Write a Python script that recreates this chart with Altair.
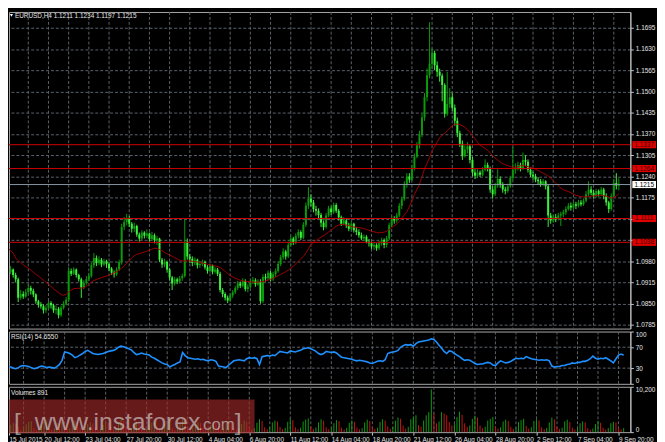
import json
import altair as alt
import pandas as pd

symbol_name = "EURUSD"
timeframe = "H4"
first_open = 1.0940

closes = [
    1.0948, 1.0955, 1.0938, 1.0925, 1.0868, 1.0880, 1.0872, 1.0885, 1.0898, 1.0890,
    1.0878, 1.0858, 1.0848, 1.0842, 1.0830, 1.0838, 1.0852, 1.0845, 1.0830, 1.0835,
    1.0815, 1.0838, 1.0850, 1.0862, 1.0950, 1.0942, 1.0955, 1.0938, 1.0925, 1.0900,
    1.0915, 1.0925, 1.0935, 1.0968, 1.0990, 1.0975, 1.0985, 1.0970, 1.0980, 1.0972,
    1.0958, 1.0945, 1.0940, 1.0955, 1.0978, 1.1085, 1.1100, 1.1112, 1.1095, 1.1080,
    1.1088, 1.1062, 1.1050, 1.1068, 1.1058, 1.1065, 1.1048, 1.1060, 1.1045, 1.1050,
    1.0985, 1.0970, 1.0978, 1.0955, 1.0930, 1.0912, 1.0925, 1.0918, 1.0928, 1.0935,
    1.1040, 1.0995, 1.0988, 1.0975, 1.0985, 1.0968, 1.0972, 1.0978, 1.0962, 1.0950,
    1.0966, 1.0948, 1.0955, 1.0942, 1.0892, 1.0880, 1.0868, 1.0860, 1.0875, 1.0885,
    1.0898, 1.0912, 1.0905, 1.0920, 1.0895, 1.0902, 1.0918, 1.0922, 1.0910, 1.0918,
    1.0858, 1.0932, 1.0928, 1.0945, 1.0925, 1.0940, 1.0950, 1.0972, 1.0992, 1.1010,
    1.0995, 1.1030, 1.1050, 1.1038, 1.1058, 1.1070, 1.1052, 1.1092, 1.1150, 1.1172,
    1.1160, 1.1140, 1.1135, 1.1122, 1.1098, 1.1085, 1.1120, 1.1142, 1.1130, 1.1152,
    1.1135, 1.1115, 1.1095, 1.1105, 1.1090, 1.1080, 1.1095, 1.1075, 1.1070, 1.1060,
    1.1050, 1.1055, 1.1040, 1.1035, 1.1025, 1.1030, 1.1020, 1.1035, 1.1045, 1.1030,
    1.1050, 1.1090, 1.1110, 1.1105, 1.1120, 1.1150, 1.1170, 1.1215, 1.1240, 1.1230,
    1.1265, 1.1300, 1.1335, 1.1368, 1.1420, 1.1482, 1.1550, 1.1585, 1.1618, 1.1580,
    1.1560, 1.1548, 1.1520, 1.1432, 1.1462, 1.1482, 1.1450, 1.1410, 1.1372, 1.1340,
    1.1302, 1.1322, 1.1332, 1.1290, 1.1252, 1.1242, 1.1252, 1.1245, 1.1260, 1.1275,
    1.1265, 1.1200, 1.1185, 1.1212, 1.1232, 1.1215, 1.1200, 1.1195, 1.1210, 1.1235,
    1.1260, 1.1265, 1.1275, 1.1265, 1.1290, 1.1285, 1.1260, 1.1245, 1.1240, 1.1230,
    1.1225, 1.1215, 1.1225, 1.1210, 1.1120, 1.1105, 1.1115, 1.1110, 1.1120, 1.1125,
    1.1130, 1.1140, 1.1150, 1.1145, 1.1155, 1.1150, 1.1160, 1.1155, 1.1165, 1.1185,
    1.1200, 1.1190, 1.1180, 1.1195, 1.1185, 1.1200, 1.1180, 1.1160, 1.1140, 1.1180,
    1.1220, 1.1211, 1.1215,
]

highs = [
    1.0962, 1.0966, 1.0958, 1.0945, 1.0930, 1.0892, 1.0888, 1.0895, 1.0910, 1.0905,
    1.0896, 1.0882, 1.0862, 1.0855, 1.0848, 1.0846, 1.0860, 1.0858, 1.0850, 1.0845,
    1.0840, 1.0845, 1.0858, 1.0870, 1.0962, 1.0958, 1.0962, 1.0958, 1.0942, 1.0930,
    1.0922, 1.0935, 1.0945, 1.0975, 1.1005, 1.0998, 1.0995, 1.0990, 1.0988, 1.0985,
    1.0978, 1.0962, 1.0952, 1.0962, 1.0985, 1.1095, 1.1115, 1.1125, 1.1118, 1.1100,
    1.1098, 1.1092, 1.1068, 1.1075, 1.1072, 1.1078, 1.1068, 1.1070, 1.1065, 1.1058,
    1.1052, 1.0990, 1.0988, 1.0982, 1.0960, 1.0935, 1.0932, 1.0930, 1.0935, 1.0942,
    1.1108, 1.1050, 1.1002, 1.0995, 1.0992, 1.0988, 1.0980, 1.0985, 1.0982, 1.0968,
    1.0972, 1.0970, 1.0962, 1.0960, 1.0948, 1.0898, 1.0885, 1.0875, 1.0882, 1.0892,
    1.0905, 1.0920, 1.0918, 1.0928, 1.0925, 1.0910, 1.0925, 1.0932, 1.0928, 1.0925,
    1.0925, 1.0940, 1.0942, 1.0952, 1.0950, 1.0948, 1.0958, 1.0980, 1.1000, 1.1020,
    1.1015, 1.1040, 1.1058, 1.1055, 1.1066, 1.1078, 1.1075, 1.1100, 1.1160, 1.1207,
    1.1185, 1.1168, 1.1150, 1.1142, 1.1128, 1.1105, 1.1128, 1.1150, 1.1148, 1.1160,
    1.1158, 1.1140, 1.1120, 1.1115, 1.1110, 1.1098, 1.1102, 1.1098, 1.1085, 1.1078,
    1.1068, 1.1062, 1.1060, 1.1048, 1.1040, 1.1038, 1.1035, 1.1042, 1.1052, 1.1050,
    1.1058, 1.1098, 1.1118, 1.1118, 1.1128, 1.1158, 1.1178, 1.1225, 1.1250, 1.1250,
    1.1275, 1.1310, 1.1345, 1.1380, 1.1432, 1.1495, 1.1570, 1.1712, 1.1632, 1.1625,
    1.1592, 1.1570, 1.1555, 1.1525, 1.1560, 1.1510, 1.1495, 1.1460, 1.1420, 1.1380,
    1.1350, 1.1335, 1.1345, 1.1338, 1.1300, 1.1262, 1.1262, 1.1258, 1.1268, 1.1292,
    1.1282, 1.1270, 1.1210, 1.1220, 1.1262, 1.1240, 1.1222, 1.1208, 1.1218, 1.1242,
    1.1330, 1.1280, 1.1285, 1.1282, 1.1313, 1.1305, 1.1292, 1.1268, 1.1255, 1.1248,
    1.1238, 1.1232, 1.1232, 1.1228, 1.1215, 1.1128, 1.1122, 1.1125, 1.1128, 1.1132,
    1.1138, 1.1148, 1.1158, 1.1160, 1.1162, 1.1162, 1.1168, 1.1168, 1.1172, 1.1195,
    1.1225, 1.1210, 1.1198, 1.1202, 1.1200, 1.1208, 1.1205, 1.1188, 1.1165, 1.1188,
    1.1232, 1.1250, 1.1234,
]

lows = [
    1.0935, 1.0940, 1.0930, 1.0915, 1.0855, 1.0862, 1.0865, 1.0868, 1.0880, 1.0878,
    1.0870, 1.0850, 1.0838, 1.0835, 1.0820, 1.0822, 1.0832, 1.0835, 1.0822, 1.0818,
    1.0805, 1.0810, 1.0832, 1.0845, 1.0855, 1.0935, 1.0938, 1.0930, 1.0918, 1.0868,
    1.0895, 1.0908, 1.0920, 1.0930, 1.0960, 1.0965, 1.0968, 1.0962, 1.0965, 1.0960,
    1.0950, 1.0938, 1.0930, 1.0935, 1.0950, 1.0970, 1.1075, 1.1090, 1.1085, 1.1068,
    1.1070, 1.1055, 1.1040, 1.1045, 1.1050, 1.1052, 1.1040, 1.1042, 1.1035, 1.1030,
    1.0978, 1.0960, 1.0962, 1.0945, 1.0922, 1.0892, 1.0905, 1.0910, 1.0912, 1.0920,
    1.0930, 1.0985, 1.0975, 1.0965, 1.0968, 1.0958, 1.0960, 1.0965, 1.0955, 1.0942,
    1.0945, 1.0940, 1.0942, 1.0935, 1.0885, 1.0870, 1.0860, 1.0852, 1.0855, 1.0868,
    1.0880, 1.0892, 1.0898, 1.0900, 1.0888, 1.0885, 1.0898, 1.0910, 1.0902, 1.0905,
    1.0850, 1.0852, 1.0918, 1.0922, 1.0918, 1.0920, 1.0932, 1.0945, 1.0965, 1.0985,
    1.0985, 1.0990, 1.1025, 1.1030, 1.1032, 1.1050, 1.1045, 1.1048, 1.1085, 1.1140,
    1.1148, 1.1130, 1.1120, 1.1110, 1.1085, 1.1075, 1.1080, 1.1115, 1.1122, 1.1125,
    1.1128, 1.1105, 1.1088, 1.1090, 1.1082, 1.1072, 1.1075, 1.1068, 1.1060, 1.1052,
    1.1045, 1.1042, 1.1035, 1.1025, 1.1018, 1.1015, 1.1012, 1.1015, 1.1028, 1.1020,
    1.1022, 1.1045, 1.1085, 1.1095, 1.1098, 1.1115, 1.1140, 1.1165, 1.1205, 1.1220,
    1.1225, 1.1258, 1.1295, 1.1325, 1.1360, 1.1410, 1.1470, 1.1540, 1.1570, 1.1565,
    1.1545, 1.1530, 1.1470, 1.1420, 1.1425, 1.1450, 1.1440, 1.1395, 1.1360, 1.1330,
    1.1290, 1.1298, 1.1310, 1.1280, 1.1240, 1.1232, 1.1235, 1.1238, 1.1240, 1.1255,
    1.1255, 1.1190, 1.1172, 1.1180, 1.1205, 1.1205, 1.1190, 1.1185, 1.1190, 1.1205,
    1.1228, 1.1248, 1.1258, 1.1255, 1.1260, 1.1272, 1.1252, 1.1238, 1.1230, 1.1222,
    1.1215, 1.1208, 1.1210, 1.1200, 1.1085, 1.1095, 1.1098, 1.1100, 1.1105, 1.1088,
    1.1115, 1.1122, 1.1135, 1.1135, 1.1138, 1.1140, 1.1145, 1.1148, 1.1150, 1.1160,
    1.1180, 1.1182, 1.1172, 1.1175, 1.1178, 1.1180, 1.1170, 1.1150, 1.1128, 1.1135,
    1.1175, 1.1200, 1.1197,
]

ma_values = [
    1.1018, 1.1013, 1.1005, 1.0990, 1.0982, 1.0976, 1.0969, 1.0963, 1.0959, 1.0953,
    1.0946, 1.0940, 1.0935, 1.0929, 1.0922, 1.0916, 1.0910, 1.0903, 1.0896, 1.0890,
    1.0884, 1.0878, 1.0876, 1.0879, 1.0886, 1.0892, 1.0896, 1.0897, 1.0897, 1.0898,
    1.0899, 1.0904, 1.0910, 1.0916, 1.0921, 1.0924, 1.0927, 1.0930, 1.0932, 1.0935,
    1.0938, 1.0941, 1.0944, 1.0948, 1.0953, 1.0959, 1.0966, 1.0974, 1.0981, 1.0990,
    1.0997, 1.1001, 1.1004, 1.1006, 1.1008, 1.1011, 1.1014, 1.1017, 1.1020, 1.1019,
    1.1016, 1.1012, 1.1007, 1.1003, 1.0999, 1.0995, 1.0991, 1.0987, 1.0983, 1.0981,
    1.0981, 1.0981, 1.0981, 1.0980, 1.0979, 1.0978, 1.0976, 1.0975, 1.0973, 1.0971,
    1.0969, 1.0968, 1.0966, 1.0964, 1.0961, 1.0955, 1.0949, 1.0942, 1.0936, 1.0932,
    1.0928, 1.0925, 1.0922, 1.0920, 1.0919, 1.0918, 1.0917, 1.0916, 1.0916, 1.0916,
    1.0917, 1.0918, 1.0920, 1.0922, 1.0925, 1.0928, 1.0932, 1.0936, 1.0940, 1.0944,
    1.0948, 1.0953, 1.0959, 1.0965, 1.0972, 1.0980, 1.0988, 1.0995, 1.1005, 1.1018,
    1.1032, 1.1038, 1.1044, 1.1049, 1.1054, 1.1058, 1.1064, 1.1070, 1.1076, 1.1082,
    1.1087, 1.1091, 1.1093, 1.1092, 1.1091, 1.1089, 1.1087, 1.1085, 1.1084, 1.1083,
    1.1082, 1.1080, 1.1077, 1.1075, 1.1072, 1.1070, 1.1068, 1.1067, 1.1068, 1.1069,
    1.1072, 1.1077, 1.1083, 1.1089, 1.1094, 1.1102, 1.1112, 1.1122, 1.1132, 1.1147,
    1.1165, 1.1185, 1.1200, 1.1215, 1.1240, 1.1263, 1.1280, 1.1298, 1.1318, 1.1332,
    1.1345, 1.1358, 1.1366, 1.1372, 1.1380, 1.1388, 1.1395, 1.1400, 1.1400, 1.1398,
    1.1395, 1.1390, 1.1383, 1.1375, 1.1365, 1.1355, 1.1344, 1.1336, 1.1331, 1.1326,
    1.1320, 1.1313, 1.1303, 1.1296, 1.1290, 1.1284, 1.1279, 1.1276, 1.1273, 1.1270,
    1.1268, 1.1268, 1.1270, 1.1272, 1.1273, 1.1272, 1.1270, 1.1267, 1.1265, 1.1262,
    1.1258, 1.1254, 1.1250, 1.1246, 1.1241, 1.1235, 1.1227, 1.1219, 1.1212, 1.1205,
    1.1199, 1.1196, 1.1194, 1.1190, 1.1186, 1.1182, 1.1180, 1.1178, 1.1177, 1.1177,
    1.1178, 1.1179, 1.1180, 1.1181, 1.1182, 1.1182, 1.1181, 1.1179, 1.1177, 1.1174,
    1.1175, 1.1180, 1.1187,
]

rsi_values = [
    37, 36, 34, 32, 30, 29, 31, 34, 35, 34,
    33, 31, 29, 30, 32, 34, 33, 31, 32, 31,
    30, 33, 37, 45, 61, 60, 58, 55, 50, 52,
    55, 58, 62, 64, 61, 58, 57, 56, 57, 58,
    60, 62, 63, 64, 66, 70, 72, 71, 69, 67,
    65, 60, 56, 57, 59, 57, 56, 55, 51, 49,
    46, 43, 40, 38, 37, 32, 35, 37, 40, 42,
    60, 54, 50, 49, 48, 47, 48, 46, 47, 45,
    44, 46, 45, 43, 34, 33, 32, 31, 36, 40,
    44, 45, 46, 45, 44, 48, 50, 49, 50, 48,
    37, 52, 53, 54, 53, 55, 54, 58, 62, 61,
    60, 59, 63, 62, 61, 63, 64, 67, 68, 69,
    67, 65, 62, 58, 56, 58, 62, 61, 60, 61,
    59, 55, 51, 50, 49, 48, 47, 45, 44, 45,
    44, 43, 42, 40, 39, 41, 43, 44, 43, 46,
    58, 60, 61, 62, 64, 70, 73, 75, 74, 75,
    72, 77, 80, 81, 82, 83, 84, 86, 85, 80,
    74, 68, 62, 58, 63, 62, 58, 55, 52, 48,
    45, 46, 45, 42, 39, 37, 38, 38, 40, 41,
    40, 36, 35, 40, 44, 42, 40, 41, 43, 46,
    49, 48, 49, 48, 52, 50, 48, 47, 46, 45,
    46, 45, 46, 44, 34, 32, 33, 33, 35, 35,
    37, 38, 40, 39, 41, 41, 43, 43, 45, 48,
    53, 49, 47, 49, 48, 50, 47, 44, 40, 48,
    55, 57, 54.655,
]

volumes = [
    900, 520, 780, 1650, 2100, 1900,
    1100, 480, 820, 1750, 2300, 2450,
    880, 450, 700, 1500, 2000, 2600,
    950, 600, 900, 2100, 1850, 2200,
    1400, 700, 850, 1900, 2600, 2300,
    1000, 550, 780, 1800, 2200, 1950,
    900, 500, 760, 1600, 2400, 2100,
    1200, 650, 820, 2000, 2800, 2500,
    1100, 600, 900, 1900, 2300, 2000,
    850, 480, 700, 1700, 2100, 2400,
    1300, 520, 800, 1800, 2500, 2700,
    900, 500, 750, 1900, 3100, 2400,
    1000, 560, 820, 1750, 2200, 2000,
    950, 600, 800, 1600, 2300, 2100,
    1400, 650, 900, 2000, 2500, 2200,
    1000, 550, 850, 1800, 2600, 2300,
    950, 600, 900, 2100, 2900, 2500,
    1100, 650, 1000, 2200, 2600, 2400,
    1200, 700, 950, 2300, 3000, 2700,
    1100, 650, 1000, 2400, 2800, 3100,
    1300, 700, 1050, 2200, 2900, 2600,
    1100, 650, 900, 2000, 2700, 2500,
    1000, 600, 950, 2100, 2600, 2300,
    1050, 620, 900, 2200, 2800, 2500,
    1100, 700, 1000, 2300, 2900, 2600,
    1300, 750, 1100, 2600, 3300, 3000,
    1500, 800, 1200, 2900, 3400, 3800,
    1600, 1200, 2600, 3800, 4500, 9600,
    4200, 2000, 2400, 4500, 4200, 3800,
    2300, 1500, 1800, 3400, 4600, 3900,
    2000, 1200, 1500, 3000, 3700, 3300,
    1500, 900, 1200, 2600, 3000, 3400,
    1300, 800, 1100, 2400, 2800, 2500,
    1200, 700, 1000, 2300, 2700, 3000,
    1400, 800, 1100, 2500, 2900, 2600,
    1100, 700, 950, 2200, 3300, 2900,
    1200, 750, 1000, 2400, 2800, 2300,
    1000, 600, 850, 2000, 2400, 2200,
    900, 550, 800, 1800, 2500, 2100,
    1000, 600, 900, 2000, 2300, 2200,
    950, 600, 891,
]

x_tick_labels = [
    "15 Jul 2015", "20 Jul 12:00", "23 Jul 04:00", "27 Jul 20:00", "30 Jul 12:00",
    "4 Aug 04:00", "6 Aug 20:00", "11 Aug 12:00", "14 Aug 04:00", "18 Aug 20:00",
    "21 Aug 12:00", "26 Aug 04:00", "28 Aug 20:00", "2 Sep 12:00", "7 Sep 04:00",
    "9 Sep 20:00",
]
price_ticks = [1.0785, 1.0850, 1.0915, 1.0980, 1.1045, 1.1110, 1.1175, 1.1240,
               1.1305, 1.1370, 1.1435, 1.1500, 1.1565, 1.1630, 1.1695]
level_prices = [1.1337, 1.1264, 1.1111, 1.1038]
rsi_levels = [30, 70]
rsi_ticks = [0, 30, 70, 100]
volume_ticks = [0, 10200]
watermark_parts = ["[", "www.instaforex", ".com", "]"]

# ---------------- styling ----------------
FONT = "Liberation Sans"
BG = "#000000"
GRID = "#5b636b"
AXC = "#c8c8c8"
TXT = "#e6e6e6"
BORDER = "#a8a8a8"
BULL = "#0a9a0a"
BEAR = "#3cf03c"
MA_C = "#a00000"
LEVEL_C = "#d00000"
BID_C = "#8a96a3"
RSI_C = "#1e90ff"
VUP = "#109a10"
VDN = "#c81414"
FS = 6.5

n = len(closes)
opens = [first_open] + closes[:-1]
bars = pd.DataFrame({
    "i": list(range(n)), "open": opens, "high": highs, "low": lows,
    "close": closes, "ma": ma_values, "rsi": rsi_values, "vol": volumes,
})
bars["dir"] = ["up" if c >= o else "down" for o, c in zip(opens, closes)]
bars["vdir"] = ["up"] + ["up" if volumes[k] > volumes[k - 1] else "down" for k in range(1, n)]

grid_df = pd.DataFrame({"i": list(range(8, n, 8))})
tag_prices = level_prices + [closes[-1]]
tags = pd.DataFrame({"price": tag_prices,
                     "kind": ["level"] * len(level_prices) + ["bid"]})
levels_df = pd.DataFrame({"price": level_prices})
bid_df = pd.DataFrame({"price": [closes[-1]]})
rsi_lv_df = pd.DataFrame({"v": rsi_levels})
one = pd.DataFrame({"a": [0]})

# axis labels hidden under a price tag (as in the terminal)
covered = [p for p in price_ticks if any(abs(p - q) < 0.0012 for q in tag_prices)]
cover_test = " || ".join(f"abs(datum.value - {p}) < 0.00005" for p in covered) or "false"
price_label_expr = f"({cover_test}) ? '' : format(datum.value, '.4f')"

W = 630
X_MIN = 6 / 2.6
X_MAX = 636 / 2.6
xs = alt.Scale(domain=[X_MIN, X_MAX], nice=False, zero=False)
ys = alt.Scale(domain=[1.07739, 1.17434], nice=False, zero=False)
rs = alt.Scale(domain=[0, 100], nice=False, zero=False)
vs = alt.Scale(domain=[0, 10200], nice=False, zero=True)

y_axis_main = alt.Axis(orient="right", values=price_ticks, labelExpr=price_label_expr, title=None,
                       grid=True, gridColor=GRID, gridDash=[3, 2], gridWidth=1,
                       tickSize=3, tickColor=AXC, domainColor=AXC,
                       labelColor=TXT, labelFontSize=FS, labelFont=FONT,
                       labelPadding=2, labelOverlap=False, labelFlush=False)

def xenc(axis=None):
    return alt.X("i:Q", scale=xs, axis=axis, title=None)

def vgrid(axis=None):
    return alt.Chart(grid_df).mark_rule(color=GRID, strokeDash=[3, 2], strokeWidth=1).encode(x=xenc(axis))

base = alt.Chart(bars)
cond = alt.condition("datum.dir == 'up'", alt.value(BULL), alt.value(BEAR))

wicks = base.mark_rule(strokeWidth=1, clip=True).encode(
    x=xenc(), y=alt.Y("low:Q", scale=ys, axis=y_axis_main, title=None), y2="high:Q", color=cond)
bodies = base.mark_bar(size=2, clip=True).encode(
    x=xenc(), y=alt.Y("open:Q", scale=ys, axis=y_axis_main, title=None), y2="close:Q", color=cond)
ma_line = base.mark_line(color=MA_C, strokeWidth=1, clip=True).encode(
    x=xenc(), y=alt.Y("ma:Q", scale=ys, axis=y_axis_main, title=None))
level_lines = alt.Chart(levels_df).mark_rule(color=LEVEL_C, strokeWidth=1).encode(
    y=alt.Y("price:Q", scale=ys, axis=y_axis_main, title=None))
bid_line = alt.Chart(bid_df).mark_rule(color=BID_C, strokeWidth=1).encode(
    y=alt.Y("price:Q", scale=ys, axis=y_axis_main, title=None))
BOX = "M-1,-0.3L1,-0.3L1,0.3L-1,0.3Z"
tag_boxes = alt.Chart(tags).mark_point(shape=BOX, size=576, filled=True, opacity=1, strokeWidth=0).encode(
    x=alt.value(W + 14), y=alt.Y("price:Q", scale=ys, axis=y_axis_main, title=None),
    color=alt.condition("datum.kind == 'bid'", alt.value("#ffffff"), alt.value("#e00000")))
tag_text = alt.Chart(tags).mark_text(align="center", baseline="middle", fontSize=FS, font=FONT).encode(
    x=alt.value(W + 14), y=alt.Y("price:Q", scale=ys, axis=y_axis_main, title=None),
    text=alt.Text("price:Q", format=".4f"),
    color=alt.condition("datum.kind == 'bid'", alt.value("#000000"), alt.value("#3a0000")))
header = f"{symbol_name},{timeframe}  {opens[-1]:.4f} {highs[-1]:.4f} {lows[-1]:.4f} {closes[-1]:.4f}"
head_tri = alt.Chart(one).mark_point(shape="triangle-down", filled=True, size=10, color="#ffffff", opacity=1).encode(
    x=alt.value(2.5), y=alt.value(3.5))
head_txt = alt.Chart(one).mark_text(align="left", baseline="middle", fontSize=FS, font=FONT, color=TXT).encode(
    x=alt.value(6), y=alt.value(4), text=alt.value(header))

main = alt.layer(vgrid(), wicks, bodies, ma_line, level_lines, bid_line, tag_boxes, tag_text,
                 head_tri, head_txt).properties(width=W, height=321)

# ---------------- RSI ----------------
rsi_axis = alt.Axis(orient="right", values=rsi_ticks, title=None, grid=False, tickSize=3,
                    tickColor=AXC, domainColor=AXC, labelColor=TXT, labelFontSize=FS,
                    labelFont=FONT, labelPadding=2, labelFlush=True, labelFlushOffset=0)
rsi_lv = alt.Chart(rsi_lv_df).mark_rule(color=GRID, strokeDash=[3, 2], strokeWidth=1).encode(
    y=alt.Y("v:Q", scale=rs, axis=rsi_axis, title=None))
rsi_line = base.mark_line(color=RSI_C, strokeWidth=1.6, clip=True).encode(
    x=xenc(), y=alt.Y("rsi:Q", scale=rs, axis=rsi_axis, title=None))
rsi_txt = alt.Chart(one).mark_text(align="left", baseline="middle", fontSize=FS, font=FONT, color=TXT).encode(
    x=alt.value(2), y=alt.value(6), text=alt.value(f"RSI(14) {rsi_values[-1]:.4f}"))
rsi_panel = alt.layer(vgrid(), rsi_lv, rsi_line, rsi_txt).properties(width=W, height=53)

# ---------------- Volumes ----------------
label_expr = (f"datum.value < 8 ? {json.dumps(x_tick_labels[0])} : "
              f"{json.dumps(x_tick_labels)}[round(datum.value / 16)]")
x_axis_bottom = alt.Axis(orient="bottom", values=[X_MIN] + [16 * k for k in range(1, len(x_tick_labels))],
                         labelExpr=label_expr, labelAlign="left", labelBaseline="top",
                         labelFontSize=FS, labelFont=FONT, labelColor=TXT, tickSize=3,
                         tickColor=AXC, domain=False, grid=False, labelOverlap=False,
                         labelFlush=False, labelBound=False, labelPadding=1, title=None)
vol_axis = alt.Axis(orient="right", values=volume_ticks, title=None, grid=False, tickSize=3,
                    tickColor=AXC, domainColor=AXC, labelColor=TXT, labelFontSize=FS,
                    labelFont=FONT, labelPadding=2, labelFlush=True, labelFlushOffset=0)
vol_bars = base.mark_rule(strokeWidth=1, clip=True).encode(
    x=xenc(x_axis_bottom), y=alt.Y("vol:Q", scale=vs, axis=vol_axis, title=None), y2=alt.datum(0),
    color=alt.condition("datum.vdir == 'up'", alt.value(VUP), alt.value(VDN)))
vol_txt = alt.Chart(one).mark_text(align="left", baseline="middle", fontSize=FS, font=FONT, color=TXT).encode(
    x=alt.value(2), y=alt.value(6), text=alt.value(f"Volumes {volumes[-1]}"))
wm_box = alt.Chart(one).mark_rect(color="#a52a2a", opacity=0.62).encode(
    x=alt.value(0), x2=alt.value(249), y=alt.value(13), y2=alt.value(47))
wm_style = dict(baseline="alphabetic", align="left", font=FONT, color="#dcdcdc", opacity=0.6)
wm1 = alt.Chart(one).mark_text(fontSize=25, **wm_style).encode(
    x=alt.value(5), y=alt.value(44), text=alt.value(watermark_parts[0]))
wm2 = alt.Chart(one).mark_text(fontSize=25, **wm_style).encode(
    x=alt.value(26), y=alt.value(44), text=alt.value(watermark_parts[1]))
wm3 = alt.Chart(one).mark_text(fontSize=17, **wm_style).encode(
    x=alt.value(192), y=alt.value(44), text=alt.value(watermark_parts[2]))
wm4 = alt.Chart(one).mark_text(fontSize=25, **wm_style).encode(
    x=alt.value(229), y=alt.value(44), text=alt.value(watermark_parts[3]))
vol_panel = alt.layer(vgrid(x_axis_bottom), vol_bars, vol_txt, wm_box, wm1, wm2, wm3, wm4).properties(
    width=W, height=46)

chart = alt.vconcat(main, rsi_panel, vol_panel, spacing=1).resolve_scale(
    x="independent", y="independent").properties(
    background=BG, padding=0).configure_view(stroke=BORDER, strokeWidth=1, fill=BG)

chart.save("out.html", embed_options={"renderer": "svg", "actions": False})
